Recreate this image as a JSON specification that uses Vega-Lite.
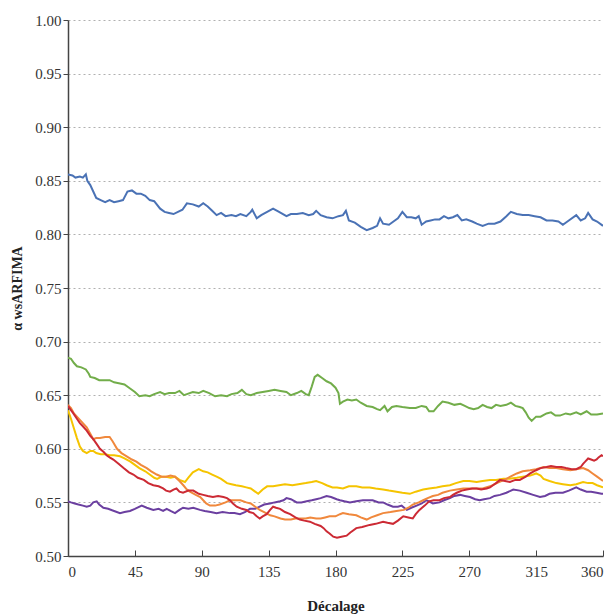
{
  "$schema": "https://vega.github.io/schema/vega-lite/v6.json",
  "width": 535,
  "height": 536,
  "autosize": {"type": "none"},
  "padding": {"left": 68, "top": 20, "right": 10, "bottom": 58},
  "background": "white",
  "config": {"view": {"stroke": null}, "font": "Liberation Serif, serif"},
  "data": {"values": [
{"s":"A","x":0,"y":0.856},{"s":"A","x":3,"y":0.855},{"s":"A","x":5,"y":0.853},{"s":"A","x":8,"y":0.854},{"s":"A","x":10,"y":0.853},{"s":"A","x":12,"y":0.856},{"s":"A","x":13,"y":0.85},{"s":"A","x":15,"y":0.846},{"s":"A","x":17,"y":0.84},{"s":"A","x":19,"y":0.834},{"s":"A","x":22,"y":0.832},{"s":"A","x":25,"y":0.83},{"s":"A","x":28,"y":0.832},{"s":"A","x":31,"y":0.83},{"s":"A","x":34,"y":0.831},{"s":"A","x":37,"y":0.832},{"s":"A","x":40,"y":0.84},{"s":"A","x":43,"y":0.841},{"s":"A","x":46,"y":0.838},{"s":"A","x":49,"y":0.838},{"s":"A","x":52,"y":0.836},{"s":"A","x":55,"y":0.832},{"s":"A","x":58,"y":0.831},{"s":"A","x":62,"y":0.824},{"s":"A","x":65,"y":0.821},{"s":"A","x":68,"y":0.82},{"s":"A","x":71,"y":0.819},{"s":"A","x":74,"y":0.821},{"s":"A","x":77,"y":0.823},{"s":"A","x":80,"y":0.829},{"s":"A","x":84,"y":0.828},{"s":"A","x":88,"y":0.826},{"s":"A","x":91,"y":0.829},{"s":"A","x":94,"y":0.826},{"s":"A","x":97,"y":0.822},{"s":"A","x":100,"y":0.818},{"s":"A","x":103,"y":0.82},{"s":"A","x":106,"y":0.817},{"s":"A","x":110,"y":0.818},{"s":"A","x":113,"y":0.817},{"s":"A","x":116,"y":0.819},{"s":"A","x":120,"y":0.817},{"s":"A","x":123,"y":0.821},{"s":"A","x":124,"y":0.823},{"s":"A","x":127,"y":0.815},{"s":"A","x":130,"y":0.818},{"s":"A","x":134,"y":0.821},{"s":"A","x":138,"y":0.824},{"s":"A","x":142,"y":0.821},{"s":"A","x":147,"y":0.817},{"s":"A","x":150,"y":0.819},{"s":"A","x":154,"y":0.819},{"s":"A","x":158,"y":0.82},{"s":"A","x":162,"y":0.818},{"s":"A","x":165,"y":0.819},{"s":"A","x":167,"y":0.822},{"s":"A","x":170,"y":0.818},{"s":"A","x":174,"y":0.816},{"s":"A","x":178,"y":0.815},{"s":"A","x":182,"y":0.817},{"s":"A","x":185,"y":0.818},{"s":"A","x":187,"y":0.822},{"s":"A","x":189,"y":0.813},{"s":"A","x":193,"y":0.811},{"s":"A","x":197,"y":0.807},{"s":"A","x":201,"y":0.804},{"s":"A","x":205,"y":0.806},{"s":"A","x":208,"y":0.808},{"s":"A","x":210,"y":0.815},{"s":"A","x":212,"y":0.81},{"s":"A","x":216,"y":0.809},{"s":"A","x":219,"y":0.812},{"s":"A","x":222,"y":0.815},{"s":"A","x":225,"y":0.821},{"s":"A","x":228,"y":0.816},{"s":"A","x":231,"y":0.816},{"s":"A","x":234,"y":0.815},{"s":"A","x":236,"y":0.817},{"s":"A","x":238,"y":0.809},{"s":"A","x":241,"y":0.812},{"s":"A","x":244,"y":0.813},{"s":"A","x":247,"y":0.814},{"s":"A","x":250,"y":0.814},{"s":"A","x":253,"y":0.817},{"s":"A","x":256,"y":0.815},{"s":"A","x":259,"y":0.816},{"s":"A","x":262,"y":0.818},{"s":"A","x":265,"y":0.813},{"s":"A","x":268,"y":0.814},{"s":"A","x":272,"y":0.812},{"s":"A","x":275,"y":0.81},{"s":"A","x":279,"y":0.808},{"s":"A","x":283,"y":0.81},{"s":"A","x":287,"y":0.81},{"s":"A","x":291,"y":0.812},{"s":"A","x":295,"y":0.817},{"s":"A","x":298,"y":0.821},{"s":"A","x":302,"y":0.819},{"s":"A","x":306,"y":0.818},{"s":"A","x":310,"y":0.818},{"s":"A","x":314,"y":0.817},{"s":"A","x":318,"y":0.816},{"s":"A","x":322,"y":0.813},{"s":"A","x":326,"y":0.813},{"s":"A","x":330,"y":0.812},{"s":"A","x":333,"y":0.809},{"s":"A","x":337,"y":0.813},{"s":"A","x":342,"y":0.818},{"s":"A","x":345,"y":0.813},{"s":"A","x":348,"y":0.815},{"s":"A","x":350,"y":0.82},{"s":"A","x":353,"y":0.814},{"s":"A","x":356,"y":0.812},{"s":"A","x":360,"y":0.808},
{"s":"B","x":0,"y":0.685},{"s":"B","x":2,"y":0.684},{"s":"B","x":4,"y":0.68},{"s":"B","x":6,"y":0.677},{"s":"B","x":9,"y":0.676},{"s":"B","x":12,"y":0.674},{"s":"B","x":14,"y":0.67},{"s":"B","x":15,"y":0.667},{"s":"B","x":18,"y":0.666},{"s":"B","x":21,"y":0.664},{"s":"B","x":25,"y":0.664},{"s":"B","x":28,"y":0.664},{"s":"B","x":31,"y":0.662},{"s":"B","x":35,"y":0.661},{"s":"B","x":38,"y":0.66},{"s":"B","x":42,"y":0.656},{"s":"B","x":45,"y":0.653},{"s":"B","x":48,"y":0.649},{"s":"B","x":52,"y":0.65},{"s":"B","x":55,"y":0.649},{"s":"B","x":58,"y":0.651},{"s":"B","x":62,"y":0.653},{"s":"B","x":65,"y":0.651},{"s":"B","x":68,"y":0.652},{"s":"B","x":72,"y":0.652},{"s":"B","x":75,"y":0.654},{"s":"B","x":78,"y":0.65},{"s":"B","x":80,"y":0.651},{"s":"B","x":84,"y":0.653},{"s":"B","x":88,"y":0.652},{"s":"B","x":91,"y":0.654},{"s":"B","x":95,"y":0.652},{"s":"B","x":99,"y":0.649},{"s":"B","x":103,"y":0.65},{"s":"B","x":107,"y":0.649},{"s":"B","x":110,"y":0.651},{"s":"B","x":114,"y":0.652},{"s":"B","x":117,"y":0.655},{"s":"B","x":120,"y":0.651},{"s":"B","x":123,"y":0.65},{"s":"B","x":127,"y":0.652},{"s":"B","x":131,"y":0.653},{"s":"B","x":135,"y":0.654},{"s":"B","x":139,"y":0.655},{"s":"B","x":143,"y":0.654},{"s":"B","x":147,"y":0.653},{"s":"B","x":150,"y":0.65},{"s":"B","x":154,"y":0.652},{"s":"B","x":157,"y":0.654},{"s":"B","x":160,"y":0.651},{"s":"B","x":162,"y":0.65},{"s":"B","x":164,"y":0.658},{"s":"B","x":166,"y":0.667},{"s":"B","x":168,"y":0.669},{"s":"B","x":171,"y":0.666},{"s":"B","x":174,"y":0.663},{"s":"B","x":177,"y":0.661},{"s":"B","x":180,"y":0.657},{"s":"B","x":182,"y":0.652},{"s":"B","x":183,"y":0.642},{"s":"B","x":185,"y":0.644},{"s":"B","x":188,"y":0.646},{"s":"B","x":191,"y":0.645},{"s":"B","x":194,"y":0.646},{"s":"B","x":197,"y":0.643},{"s":"B","x":201,"y":0.64},{"s":"B","x":205,"y":0.639},{"s":"B","x":208,"y":0.637},{"s":"B","x":210,"y":0.636},{"s":"B","x":213,"y":0.64},{"s":"B","x":215,"y":0.635},{"s":"B","x":218,"y":0.639},{"s":"B","x":221,"y":0.64},{"s":"B","x":225,"y":0.639},{"s":"B","x":230,"y":0.638},{"s":"B","x":234,"y":0.638},{"s":"B","x":238,"y":0.64},{"s":"B","x":241,"y":0.639},{"s":"B","x":243,"y":0.635},{"s":"B","x":246,"y":0.635},{"s":"B","x":249,"y":0.64},{"s":"B","x":252,"y":0.644},{"s":"B","x":256,"y":0.643},{"s":"B","x":260,"y":0.641},{"s":"B","x":264,"y":0.642},{"s":"B","x":267,"y":0.64},{"s":"B","x":270,"y":0.638},{"s":"B","x":273,"y":0.637},{"s":"B","x":276,"y":0.638},{"s":"B","x":279,"y":0.641},{"s":"B","x":282,"y":0.639},{"s":"B","x":285,"y":0.638},{"s":"B","x":288,"y":0.641},{"s":"B","x":291,"y":0.64},{"s":"B","x":295,"y":0.641},{"s":"B","x":298,"y":0.643},{"s":"B","x":301,"y":0.64},{"s":"B","x":304,"y":0.639},{"s":"B","x":306,"y":0.638},{"s":"B","x":308,"y":0.634},{"s":"B","x":310,"y":0.629},{"s":"B","x":312,"y":0.626},{"s":"B","x":315,"y":0.63},{"s":"B","x":318,"y":0.63},{"s":"B","x":322,"y":0.633},{"s":"B","x":325,"y":0.634},{"s":"B","x":328,"y":0.631},{"s":"B","x":331,"y":0.631},{"s":"B","x":335,"y":0.633},{"s":"B","x":338,"y":0.632},{"s":"B","x":342,"y":0.634},{"s":"B","x":345,"y":0.632},{"s":"B","x":349,"y":0.635},{"s":"B","x":352,"y":0.632},{"s":"B","x":356,"y":0.632},{"s":"B","x":360,"y":0.633},
{"s":"F","x":0,"y":0.551},{"s":"F","x":2,"y":0.55},{"s":"F","x":4.5,"y":0.549},{"s":"F","x":7,"y":0.548},{"s":"F","x":10,"y":0.547},{"s":"F","x":12.6,"y":0.546},{"s":"F","x":15,"y":0.547},{"s":"F","x":17,"y":0.55},{"s":"F","x":19.3,"y":0.551},{"s":"F","x":21,"y":0.548},{"s":"F","x":23.8,"y":0.545},{"s":"F","x":27,"y":0.544},{"s":"F","x":31,"y":0.542},{"s":"F","x":35,"y":0.54},{"s":"F","x":38,"y":0.541},{"s":"F","x":41.7,"y":0.542},{"s":"F","x":45,"y":0.544},{"s":"F","x":49.6,"y":0.547},{"s":"F","x":53,"y":0.545},{"s":"F","x":57.4,"y":0.543},{"s":"F","x":61,"y":0.544},{"s":"F","x":64,"y":0.542},{"s":"F","x":66.4,"y":0.544},{"s":"F","x":69,"y":0.542},{"s":"F","x":72,"y":0.54},{"s":"F","x":75,"y":0.543},{"s":"F","x":77.4,"y":0.545},{"s":"F","x":81,"y":0.544},{"s":"F","x":84.3,"y":0.545},{"s":"F","x":88.8,"y":0.543},{"s":"F","x":92,"y":0.542},{"s":"F","x":96,"y":0.541},{"s":"F","x":100,"y":0.54},{"s":"F","x":104,"y":0.541},{"s":"F","x":109,"y":0.54},{"s":"F","x":112,"y":0.54},{"s":"F","x":115.7,"y":0.539},{"s":"F","x":119,"y":0.541},{"s":"F","x":122.5,"y":0.544},{"s":"F","x":126,"y":0.544},{"s":"F","x":129,"y":0.546},{"s":"F","x":132,"y":0.548},{"s":"F","x":135.9,"y":0.549},{"s":"F","x":139,"y":0.55},{"s":"F","x":142.7,"y":0.551},{"s":"F","x":145,"y":0.552},{"s":"F","x":147,"y":0.554},{"s":"F","x":150,"y":0.553},{"s":"F","x":153.9,"y":0.55},{"s":"F","x":157,"y":0.55},{"s":"F","x":160.6,"y":0.551},{"s":"F","x":164,"y":0.552},{"s":"F","x":167,"y":0.553},{"s":"F","x":170,"y":0.554},{"s":"F","x":174,"y":0.556},{"s":"F","x":177,"y":0.555},{"s":"F","x":180.8,"y":0.553},{"s":"F","x":183,"y":0.552},{"s":"F","x":186,"y":0.551},{"s":"F","x":189.7,"y":0.55},{"s":"F","x":194,"y":0.551},{"s":"F","x":198.5,"y":0.552},{"s":"F","x":202,"y":0.552},{"s":"F","x":205,"y":0.552},{"s":"F","x":209,"y":0.55},{"s":"F","x":212,"y":0.55},{"s":"F","x":215,"y":0.548},{"s":"F","x":218.7,"y":0.546},{"s":"F","x":222,"y":0.546},{"s":"F","x":224.5,"y":0.547},{"s":"F","x":228,"y":0.543},{"s":"F","x":231,"y":0.545},{"s":"F","x":234.6,"y":0.547},{"s":"F","x":238,"y":0.549},{"s":"F","x":241,"y":0.552},{"s":"F","x":243,"y":0.551},{"s":"F","x":245.5,"y":0.549},{"s":"F","x":250,"y":0.55},{"s":"F","x":253,"y":0.552},{"s":"F","x":257,"y":0.554},{"s":"F","x":260,"y":0.556},{"s":"F","x":263.8,"y":0.557},{"s":"F","x":267,"y":0.556},{"s":"F","x":270.5,"y":0.555},{"s":"F","x":274,"y":0.553},{"s":"F","x":277,"y":0.552},{"s":"F","x":280,"y":0.553},{"s":"F","x":284,"y":0.554},{"s":"F","x":287,"y":0.556},{"s":"F","x":290.7,"y":0.557},{"s":"F","x":295,"y":0.559},{"s":"F","x":299.6,"y":0.562},{"s":"F","x":304,"y":0.561},{"s":"F","x":308.6,"y":0.559},{"s":"F","x":313,"y":0.557},{"s":"F","x":317.6,"y":0.555},{"s":"F","x":321,"y":0.556},{"s":"F","x":324,"y":0.558},{"s":"F","x":328,"y":0.559},{"s":"F","x":333,"y":0.559},{"s":"F","x":337,"y":0.561},{"s":"F","x":342,"y":0.564},{"s":"F","x":345,"y":0.562},{"s":"F","x":349,"y":0.56},{"s":"F","x":352,"y":0.56},{"s":"F","x":355.7,"y":0.559},{"s":"F","x":359,"y":0.558},{"s":"F","x":360,"y":0.558},
{"s":"C","x":0,"y":0.636},{"s":"C","x":2,"y":0.628},{"s":"C","x":4,"y":0.619},{"s":"C","x":6,"y":0.61},{"s":"C","x":8,"y":0.602},{"s":"C","x":10,"y":0.598},{"s":"C","x":12.6,"y":0.596},{"s":"C","x":15,"y":0.598},{"s":"C","x":17,"y":0.598},{"s":"C","x":19,"y":0.596},{"s":"C","x":22,"y":0.595},{"s":"C","x":25,"y":0.595},{"s":"C","x":28,"y":0.594},{"s":"C","x":31,"y":0.594},{"s":"C","x":35,"y":0.593},{"s":"C","x":38,"y":0.591},{"s":"C","x":42,"y":0.588},{"s":"C","x":45,"y":0.585},{"s":"C","x":48,"y":0.582},{"s":"C","x":52,"y":0.579},{"s":"C","x":55,"y":0.576},{"s":"C","x":58,"y":0.573},{"s":"C","x":60,"y":0.572},{"s":"C","x":63,"y":0.574},{"s":"C","x":66,"y":0.574},{"s":"C","x":69,"y":0.573},{"s":"C","x":72,"y":0.574},{"s":"C","x":75,"y":0.571},{"s":"C","x":78.7,"y":0.569},{"s":"C","x":81,"y":0.573},{"s":"C","x":84,"y":0.578},{"s":"C","x":88,"y":0.581},{"s":"C","x":91,"y":0.579},{"s":"C","x":94,"y":0.578},{"s":"C","x":97,"y":0.576},{"s":"C","x":100,"y":0.574},{"s":"C","x":103,"y":0.572},{"s":"C","x":107,"y":0.568},{"s":"C","x":110,"y":0.567},{"s":"C","x":113,"y":0.566},{"s":"C","x":117,"y":0.565},{"s":"C","x":120,"y":0.564},{"s":"C","x":123,"y":0.563},{"s":"C","x":125,"y":0.561},{"s":"C","x":128,"y":0.558},{"s":"C","x":131,"y":0.562},{"s":"C","x":134,"y":0.565},{"s":"C","x":138,"y":0.565},{"s":"C","x":142,"y":0.566},{"s":"C","x":146,"y":0.567},{"s":"C","x":151,"y":0.566},{"s":"C","x":155,"y":0.567},{"s":"C","x":160,"y":0.568},{"s":"C","x":164,"y":0.569},{"s":"C","x":167,"y":0.57},{"s":"C","x":171,"y":0.568},{"s":"C","x":174,"y":0.566},{"s":"C","x":178,"y":0.564},{"s":"C","x":181,"y":0.564},{"s":"C","x":185,"y":0.563},{"s":"C","x":189,"y":0.565},{"s":"C","x":194,"y":0.565},{"s":"C","x":198,"y":0.564},{"s":"C","x":203,"y":0.564},{"s":"C","x":207,"y":0.563},{"s":"C","x":212,"y":0.562},{"s":"C","x":216,"y":0.561},{"s":"C","x":221,"y":0.56},{"s":"C","x":225,"y":0.559},{"s":"C","x":230,"y":0.558},{"s":"C","x":234,"y":0.56},{"s":"C","x":239,"y":0.562},{"s":"C","x":243,"y":0.563},{"s":"C","x":248,"y":0.564},{"s":"C","x":252,"y":0.565},{"s":"C","x":257,"y":0.566},{"s":"C","x":261,"y":0.568},{"s":"C","x":266,"y":0.57},{"s":"C","x":270,"y":0.57},{"s":"C","x":275,"y":0.569},{"s":"C","x":279,"y":0.57},{"s":"C","x":284,"y":0.571},{"s":"C","x":288,"y":0.571},{"s":"C","x":293,"y":0.572},{"s":"C","x":297,"y":0.572},{"s":"C","x":302,"y":0.573},{"s":"C","x":306,"y":0.574},{"s":"C","x":311,"y":0.575},{"s":"C","x":315,"y":0.577},{"s":"C","x":318,"y":0.575},{"s":"C","x":320,"y":0.572},{"s":"C","x":324,"y":0.57},{"s":"C","x":328.6,"y":0.568},{"s":"C","x":333,"y":0.567},{"s":"C","x":338,"y":0.566},{"s":"C","x":342,"y":0.567},{"s":"C","x":346.6,"y":0.569},{"s":"C","x":350,"y":0.568},{"s":"C","x":353,"y":0.568},{"s":"C","x":356,"y":0.566},{"s":"C","x":360,"y":0.564},
{"s":"D","x":0,"y":0.641},{"s":"D","x":2,"y":0.638},{"s":"D","x":4,"y":0.633},{"s":"D","x":6,"y":0.63},{"s":"D","x":8,"y":0.627},{"s":"D","x":10,"y":0.624},{"s":"D","x":12.6,"y":0.62},{"s":"D","x":15,"y":0.614},{"s":"D","x":17,"y":0.609},{"s":"D","x":19,"y":0.61},{"s":"D","x":21.5,"y":0.61},{"s":"D","x":25,"y":0.611},{"s":"D","x":28,"y":0.611},{"s":"D","x":30,"y":0.607},{"s":"D","x":33,"y":0.6},{"s":"D","x":36,"y":0.596},{"s":"D","x":39.5,"y":0.593},{"s":"D","x":43,"y":0.59},{"s":"D","x":46,"y":0.588},{"s":"D","x":49,"y":0.585},{"s":"D","x":53,"y":0.582},{"s":"D","x":56,"y":0.579},{"s":"D","x":59.7,"y":0.576},{"s":"D","x":63,"y":0.574},{"s":"D","x":66,"y":0.574},{"s":"D","x":69,"y":0.575},{"s":"D","x":72,"y":0.574},{"s":"D","x":75,"y":0.57},{"s":"D","x":77.6,"y":0.566},{"s":"D","x":80,"y":0.562},{"s":"D","x":82,"y":0.56},{"s":"D","x":86,"y":0.557},{"s":"D","x":89,"y":0.555},{"s":"D","x":91,"y":0.552},{"s":"D","x":93,"y":0.549},{"s":"D","x":95.5,"y":0.547},{"s":"D","x":99,"y":0.547},{"s":"D","x":102,"y":0.548},{"s":"D","x":106,"y":0.55},{"s":"D","x":109,"y":0.552},{"s":"D","x":113,"y":0.552},{"s":"D","x":116,"y":0.552},{"s":"D","x":120,"y":0.55},{"s":"D","x":123,"y":0.549},{"s":"D","x":126,"y":0.546},{"s":"D","x":129,"y":0.543},{"s":"D","x":132,"y":0.541},{"s":"D","x":136,"y":0.538},{"s":"D","x":139,"y":0.537},{"s":"D","x":143,"y":0.535},{"s":"D","x":146,"y":0.534},{"s":"D","x":150,"y":0.534},{"s":"D","x":153,"y":0.535},{"s":"D","x":156,"y":0.535},{"s":"D","x":160,"y":0.535},{"s":"D","x":163,"y":0.536},{"s":"D","x":167,"y":0.535},{"s":"D","x":170,"y":0.535},{"s":"D","x":173,"y":0.536},{"s":"D","x":176,"y":0.537},{"s":"D","x":180,"y":0.537},{"s":"D","x":183,"y":0.539},{"s":"D","x":185,"y":0.54},{"s":"D","x":189,"y":0.539},{"s":"D","x":194,"y":0.538},{"s":"D","x":197,"y":0.536},{"s":"D","x":201,"y":0.534},{"s":"D","x":204,"y":0.536},{"s":"D","x":208,"y":0.538},{"s":"D","x":212,"y":0.54},{"s":"D","x":217,"y":0.541},{"s":"D","x":221,"y":0.542},{"s":"D","x":226,"y":0.543},{"s":"D","x":229,"y":0.545},{"s":"D","x":232,"y":0.548},{"s":"D","x":236,"y":0.55},{"s":"D","x":239,"y":0.552},{"s":"D","x":242,"y":0.554},{"s":"D","x":245.5,"y":0.556},{"s":"D","x":249,"y":0.557},{"s":"D","x":252,"y":0.559},{"s":"D","x":257,"y":0.561},{"s":"D","x":261.6,"y":0.562},{"s":"D","x":266,"y":0.563},{"s":"D","x":270.5,"y":0.563},{"s":"D","x":275,"y":0.563},{"s":"D","x":279,"y":0.563},{"s":"D","x":284,"y":0.565},{"s":"D","x":288.5,"y":0.568},{"s":"D","x":292,"y":0.57},{"s":"D","x":295,"y":0.572},{"s":"D","x":299,"y":0.575},{"s":"D","x":302,"y":0.577},{"s":"D","x":306,"y":0.579},{"s":"D","x":311,"y":0.58},{"s":"D","x":315,"y":0.581},{"s":"D","x":320,"y":0.583},{"s":"D","x":324,"y":0.582},{"s":"D","x":328.6,"y":0.582},{"s":"D","x":333,"y":0.581},{"s":"D","x":338,"y":0.58},{"s":"D","x":342,"y":0.581},{"s":"D","x":346.6,"y":0.582},{"s":"D","x":350,"y":0.58},{"s":"D","x":353,"y":0.577},{"s":"D","x":356,"y":0.574},{"s":"D","x":360,"y":0.57},
{"s":"E","x":0,"y":0.64},{"s":"E","x":2,"y":0.636},{"s":"E","x":3.6,"y":0.633},{"s":"E","x":6,"y":0.628},{"s":"E","x":8,"y":0.624},{"s":"E","x":10,"y":0.621},{"s":"E","x":12.6,"y":0.617},{"s":"E","x":15,"y":0.612},{"s":"E","x":17,"y":0.609},{"s":"E","x":19,"y":0.605},{"s":"E","x":21.5,"y":0.6},{"s":"E","x":24,"y":0.597},{"s":"E","x":26,"y":0.594},{"s":"E","x":28,"y":0.592},{"s":"E","x":30.5,"y":0.59},{"s":"E","x":34,"y":0.586},{"s":"E","x":37.4,"y":0.582},{"s":"E","x":41,"y":0.578},{"s":"E","x":44,"y":0.576},{"s":"E","x":47,"y":0.573},{"s":"E","x":51,"y":0.571},{"s":"E","x":54,"y":0.568},{"s":"E","x":57.4,"y":0.566},{"s":"E","x":61,"y":0.565},{"s":"E","x":64,"y":0.563},{"s":"E","x":66,"y":0.561},{"s":"E","x":68.6,"y":0.56},{"s":"E","x":71,"y":0.562},{"s":"E","x":73,"y":0.563},{"s":"E","x":75,"y":0.56},{"s":"E","x":77.4,"y":0.559},{"s":"E","x":81,"y":0.561},{"s":"E","x":84.3,"y":0.561},{"s":"E","x":88,"y":0.558},{"s":"E","x":91,"y":0.557},{"s":"E","x":94,"y":0.556},{"s":"E","x":97.5,"y":0.555},{"s":"E","x":101,"y":0.556},{"s":"E","x":104.6,"y":0.555},{"s":"E","x":107,"y":0.554},{"s":"E","x":109,"y":0.552},{"s":"E","x":111,"y":0.549},{"s":"E","x":113.5,"y":0.546},{"s":"E","x":117,"y":0.544},{"s":"E","x":120,"y":0.543},{"s":"E","x":122,"y":0.541},{"s":"E","x":124.7,"y":0.54},{"s":"E","x":127,"y":0.537},{"s":"E","x":129,"y":0.535},{"s":"E","x":131,"y":0.537},{"s":"E","x":133.7,"y":0.539},{"s":"E","x":136,"y":0.543},{"s":"E","x":138,"y":0.546},{"s":"E","x":140,"y":0.545},{"s":"E","x":142.7,"y":0.544},{"s":"E","x":146,"y":0.541},{"s":"E","x":149.5,"y":0.539},{"s":"E","x":153,"y":0.536},{"s":"E","x":156,"y":0.534},{"s":"E","x":159,"y":0.533},{"s":"E","x":162.8,"y":0.532},{"s":"E","x":166,"y":0.53},{"s":"E","x":170,"y":0.528},{"s":"E","x":172,"y":0.526},{"s":"E","x":174,"y":0.523},{"s":"E","x":176,"y":0.521},{"s":"E","x":178.5,"y":0.518},{"s":"E","x":181,"y":0.517},{"s":"E","x":184,"y":0.518},{"s":"E","x":187.5,"y":0.519},{"s":"E","x":190,"y":0.522},{"s":"E","x":194,"y":0.526},{"s":"E","x":198,"y":0.527},{"s":"E","x":203,"y":0.529},{"s":"E","x":207,"y":0.53},{"s":"E","x":212,"y":0.532},{"s":"E","x":215,"y":0.531},{"s":"E","x":218.7,"y":0.53},{"s":"E","x":222,"y":0.533},{"s":"E","x":225.6,"y":0.537},{"s":"E","x":229,"y":0.536},{"s":"E","x":232,"y":0.535},{"s":"E","x":234,"y":0.539},{"s":"E","x":236.5,"y":0.543},{"s":"E","x":240,"y":0.547},{"s":"E","x":243,"y":0.551},{"s":"E","x":246,"y":0.552},{"s":"E","x":250,"y":0.552},{"s":"E","x":253,"y":0.554},{"s":"E","x":257,"y":0.555},{"s":"E","x":259,"y":0.557},{"s":"E","x":261.6,"y":0.559},{"s":"E","x":265,"y":0.561},{"s":"E","x":268.3,"y":0.562},{"s":"E","x":272,"y":0.563},{"s":"E","x":275,"y":0.563},{"s":"E","x":278,"y":0.562},{"s":"E","x":281.7,"y":0.563},{"s":"E","x":284,"y":0.564},{"s":"E","x":286,"y":0.566},{"s":"E","x":288,"y":0.568},{"s":"E","x":290.7,"y":0.571},{"s":"E","x":294,"y":0.57},{"s":"E","x":297.4,"y":0.569},{"s":"E","x":301,"y":0.571},{"s":"E","x":304,"y":0.571},{"s":"E","x":308,"y":0.574},{"s":"E","x":311,"y":0.577},{"s":"E","x":315,"y":0.58},{"s":"E","x":318,"y":0.582},{"s":"E","x":322,"y":0.583},{"s":"E","x":325,"y":0.584},{"s":"E","x":328.6,"y":0.583},{"s":"E","x":332,"y":0.583},{"s":"E","x":335,"y":0.582},{"s":"E","x":339,"y":0.581},{"s":"E","x":342,"y":0.581},{"s":"E","x":345,"y":0.583},{"s":"E","x":346.6,"y":0.586},{"s":"E","x":348,"y":0.588},{"s":"E","x":350,"y":0.591},{"s":"E","x":352,"y":0.59},{"s":"E","x":354,"y":0.589},{"s":"E","x":355.7,"y":0.59},{"s":"E","x":357,"y":0.592},{"s":"E","x":359,"y":0.594},{"s":"E","x":360,"y":0.593}
  ]},
  "mark": {"type": "line", "strokeWidth": 2, "clip": true},
  "encoding": {
    "x": {
      "field": "x", "type": "quantitative",
      "scale": {"domain": [0, 360], "nice": false},
      "axis": {
        "values": [0, 45, 90, 135, 180, 225, 270, 315, 360],
        "title": "Décalage", "titleFont": "Liberation Serif, serif", "titleFontWeight": "bold", "titleFontSize": 15, "titleColor": "#222", "titlePadding": 19,
        "labelFont": "Liberation Serif, serif", "labelFontSize": 15, "labelColor": "#333", "labelPadding": 14,
        "grid": false, "domainColor": "#444", "domainWidth": 1.5,
        "tickColor": "#444", "tickSize": -6, "tickWidth": 1
      }
    },
    "y": {
      "field": "y", "type": "quantitative",
      "scale": {"domain": [0.5, 1.0], "nice": false, "zero": false},
      "axis": {
        "values": [0.5, 0.55, 0.6, 0.65, 0.7, 0.75, 0.8, 0.85, 0.9, 0.95, 1.0],
        "format": ".2f",
        "title": "α wsARFIMA", "titleFont": "Liberation Serif, serif", "titleFontWeight": "bold", "titleFontSize": 14, "titleColor": "#222", "titlePadding": 10,
        "labelFont": "Liberation Serif, serif", "labelFontSize": 15, "labelColor": "#333", "labelPadding": 2,
        "grid": true, "gridColor": "#b0b0b0", "gridDash": [2, 3], "gridWidth": 1,
        "domainColor": "#444", "domainWidth": 1.5,
        "tickColor": "#444", "tickSize": 5, "tickWidth": 1
      }
    },
    "color": {
      "field": "s", "type": "nominal",
      "scale": {"domain": ["A", "B", "C", "D", "E", "F"], "range": ["#4a72b5", "#72ad4a", "#f5c400", "#f0883c", "#cc2a34", "#6b3fa0"]},
      "legend": null
    },
    "order": {"field": "x", "type": "quantitative"}
  }
}
